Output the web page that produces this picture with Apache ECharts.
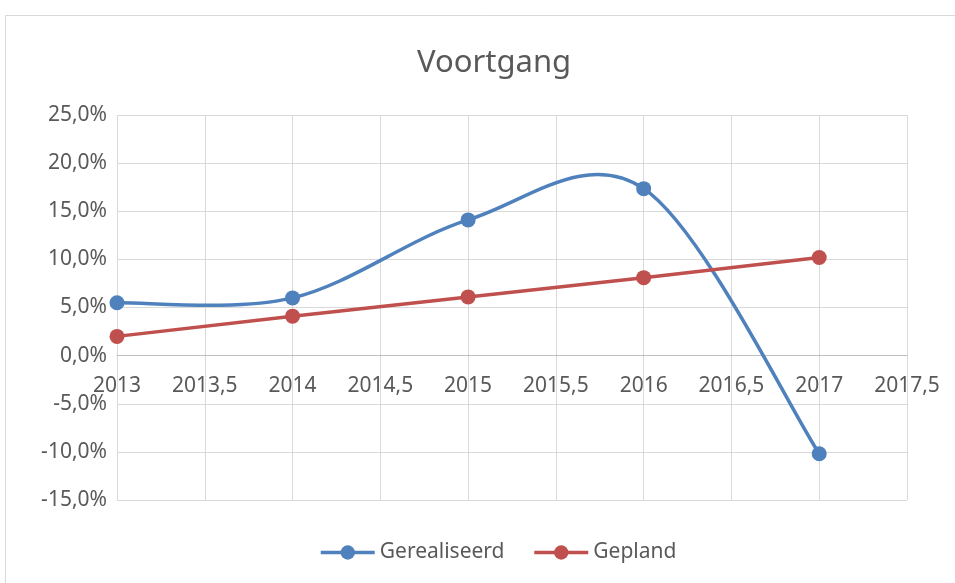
<!DOCTYPE html>
<html>
<head>
<meta charset="utf-8">
<script src="https://cdn.jsdelivr.net/npm/echarts@6/dist/echarts.min.js"></script>
<style>html,body{margin:0;padding:0;background:#fff;}#c{width:955px;height:583px;}</style>
</head>
<body>
<div id="c"></div>
<script>
const years = [2013, 2014, 2015, 2016, 2017];
const gerealiseerd = [5.5, 6.0, 14.1, 17.35, -10.2];
const gepland = [2.0, 4.1, 6.1, 8.1, 10.2];
const seriesNames = ['Gerealiseerd', 'Gepland'];
const titleText = 'Voortgang';

const blue = '#4F81BD', red = '#C0504D';
const font = 'Noto Sans';

// Excel-style smoothed path (Catmull-Rom style Bezier) computed in pixel space via api.coord
function smoothPath(api, xs, ys) {
  const p = xs.map((x, i) => api.coord([x, ys[i]]));
  const n = p.length;
  let d = 'M' + p[0][0] + ' ' + p[0][1];
  for (let i = 0; i < n - 1; i++) {
    const p0 = p[Math.max(i - 1, 0)], p1 = p[i], p2 = p[i + 1], p3 = p[Math.min(i + 2, n - 1)];
    const c1 = [p1[0] + (p2[0] - p0[0]) / 6, p1[1] + (p2[1] - p0[1]) / 6];
    const c2 = [p2[0] - (p3[0] - p1[0]) / 6, p2[1] - (p3[1] - p1[1]) / 6];
    d += ' C' + c1[0] + ' ' + c1[1] + ' ' + c2[0] + ' ' + c2[1] + ' ' + p2[0] + ' ' + p2[1];
  }
  return d;
}

const chart = echarts.init(document.getElementById('c'), null, {renderer: 'canvas'});
chart.setOption({
  animation: false,
  backgroundColor: '#fff',
  graphic: [{
    type: 'rect', shape: {x: 5.5, y: 15.5, width: 1000, height: 1000},
    style: {fill: 'none', stroke: '#d9d9d9', lineWidth: 1}, silent: true, z: -10
  }],
  title: {
    text: titleText, left: 412, top: 43,
    textStyle: {fontFamily: font, fontSize: 31, fontWeight: 'normal', color: '#595959'}
  },
  legend: {
    bottom: 15, left: 314, itemWidth: 54, itemHeight: 18, itemGap: 28,
    textStyle: {fontFamily: font, fontSize: 21, color: '#595959'},
    data: [
      {name: seriesNames[0], lineStyle: {color: blue, width: 3.5, opacity: 1}, itemStyle: {color: blue}},
      {name: seriesNames[1], lineStyle: {color: red, width: 3.5, opacity: 1}, itemStyle: {color: red}}
    ]
  },
  grid: {left: 117, right: 48, top: 115, bottom: 83, containLabel: false},
  xAxis: {
    type: 'value', min: 2013, max: 2017.5, interval: 0.5,
    offset: -145,
    axisLine: {onZero: false, lineStyle: {color: '#bfbfbf', width: 1}},
    axisTick: {show: false},
    splitLine: {show: true, lineStyle: {color: '#d9d9d9', width: 1}},
    axisLabel: {
      margin: 21, fontFamily: font, fontSize: 21, color: '#595959',
      formatter: v => String(v).replace('.', ',')
    }
  },
  yAxis: {
    type: 'value', min: -15, max: 25, interval: 5,
    axisLine: {show: false}, axisTick: {show: false},
    splitLine: {show: true, lineStyle: {color: '#d9d9d9', width: 1}},
    axisLabel: {
      margin: 10, fontFamily: font, fontSize: 21, color: '#595959',
      formatter: v => v.toFixed(1).replace('.', ',') + '%'
    }
  },
  series: [
    {
      name: '_smooth', type: 'custom', silent: true,
      data: years.map((y, i) => [y, gerealiseerd[i]]),
      renderItem: function (params, api) {
        if (params.dataIndex !== 0) return null;
        return {
          type: 'path',
          shape: {pathData: smoothPath(api, years, gerealiseerd)},
          style: {fill: 'none', stroke: blue, lineWidth: 3.5, lineCap: 'round'}
        };
      },
      z: 2
    },
    {
      name: seriesNames[0], type: 'line',
      data: years.map((y, i) => [y, gerealiseerd[i]]),
      symbol: 'circle', symbolSize: 15,
      lineStyle: {width: 3.5, color: blue, opacity: 0},
      itemStyle: {color: blue}, z: 3
    },
    {
      name: seriesNames[1], type: 'line',
      data: years.map((y, i) => [y, gepland[i]]),
      symbol: 'circle', symbolSize: 15,
      lineStyle: {width: 3.5, color: red},
      itemStyle: {color: red}, z: 3
    }
  ]
});
</script>
</body>
</html>
